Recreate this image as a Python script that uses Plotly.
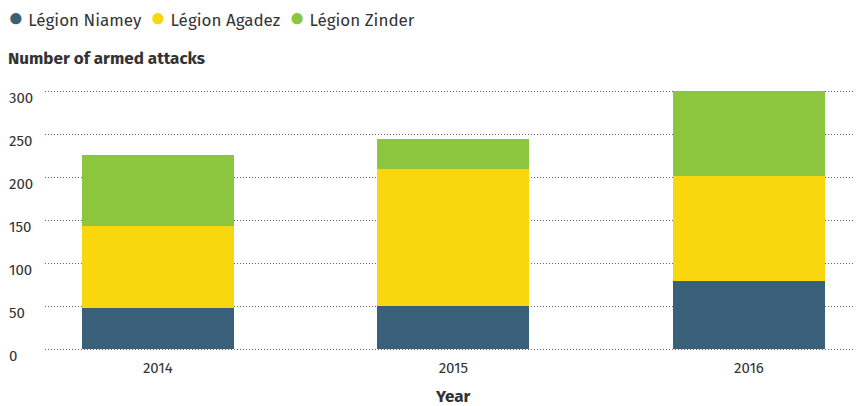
import plotly.graph_objects as go

years = ["2014", "2015", "2016"]
niamey = [48, 51, 79]
agadez = [95, 159, 123]
zinder = [83, 34, 98]
series_names = ["Légion Niamey", "Légion Agadez", "Légion Zinder"]
colors = ["#3a5f79", "#f9d70f", "#8cc63f"]
y_ticks = [0, 50, 100, 150, 200, 250, 300]

font_family = "Fira Sans, Open Sans, Noto Sans, sans-serif"
text_color = "#333333"

# plot area: 45..855 px wide, y=0 at 349px, y=300 at 91px
y_lo, y_hi = -3.0, 301.3
px_per_unit = 258 / 300
plot_h = (y_hi - y_lo) * px_per_unit
top_m = 91 - (y_hi - 300) * px_per_unit
bot_m = 406 - top_m - plot_h
plot_w = 810

fig = go.Figure()
for name, vals, col in zip(series_names, [niamey, agadez, zinder], colors):
    fig.add_trace(go.Bar(x=years, y=vals, name=name, marker=dict(color=col, line=dict(width=0)),
                         width=0.514, showlegend=False, hoverinfo="skip"))

legend_text = "&nbsp;&nbsp;".join(
    f"<span style='color:{c};font-size:26px'>●</span> {n}" for n, c in zip(series_names, colors)
)

def py(px):
    """paper y for a pixel row"""
    return (406 - bot_m - px) / plot_h

annotations = [
    dict(text=legend_text, xref="paper", yref="paper", x=-39/plot_w, y=py(17),
         xanchor="left", yanchor="middle", showarrow=False,
         font=dict(size=17, color=text_color)),
    dict(text="<b>Number of armed attacks</b>", xref="paper", yref="paper",
         x=-39/plot_w, y=py(58), xanchor="left", yanchor="middle",
         showarrow=False, font=dict(size=17, color=text_color)),
    dict(text="<b>Year</b>", xref="paper", yref="paper", x=(453 - 45)/plot_w,
         y=py(396), xanchor="center", yanchor="middle", borderpad=0,
         showarrow=False, font=dict(size=17, color=text_color)),
]
# left-aligned y tick labels, placed on the y scale
for t in y_ticks:
    annotations.append(dict(text=str(t), xref="paper", yref="y", x=-38/plot_w, y=t,
                            xanchor="left", yanchor="middle", yshift=-7, showarrow=False,
                            font=dict(size=15, color=text_color)))

fig.update_layout(
    barmode="stack",
    width=858, height=406,
    margin=dict(l=45, r=3, t=top_m, b=bot_m, autoexpand=False),
    paper_bgcolor="white", plot_bgcolor="white",
    font=dict(family=font_family, color=text_color, size=15),
    showlegend=False,
    annotations=annotations,
    xaxis=dict(type="category", range=[-0.382, 2.359], showgrid=False, zeroline=False,
               showline=False, ticks="outside", ticklen=2, tickcolor="rgba(0,0,0,0)",
               automargin=False, tickfont=dict(size=15, color=text_color)),
    yaxis=dict(range=[y_lo, y_hi], tickvals=y_ticks, showgrid=True, gridcolor="#666666",
               griddash="1px,2px", gridwidth=1, zeroline=False, showline=False,
               automargin=False, showticklabels=False, ticks=""),
)

fig.write_html("out.html", config={"displayModeBar": False},
               post_script="document.body.style.margin='0px';")
